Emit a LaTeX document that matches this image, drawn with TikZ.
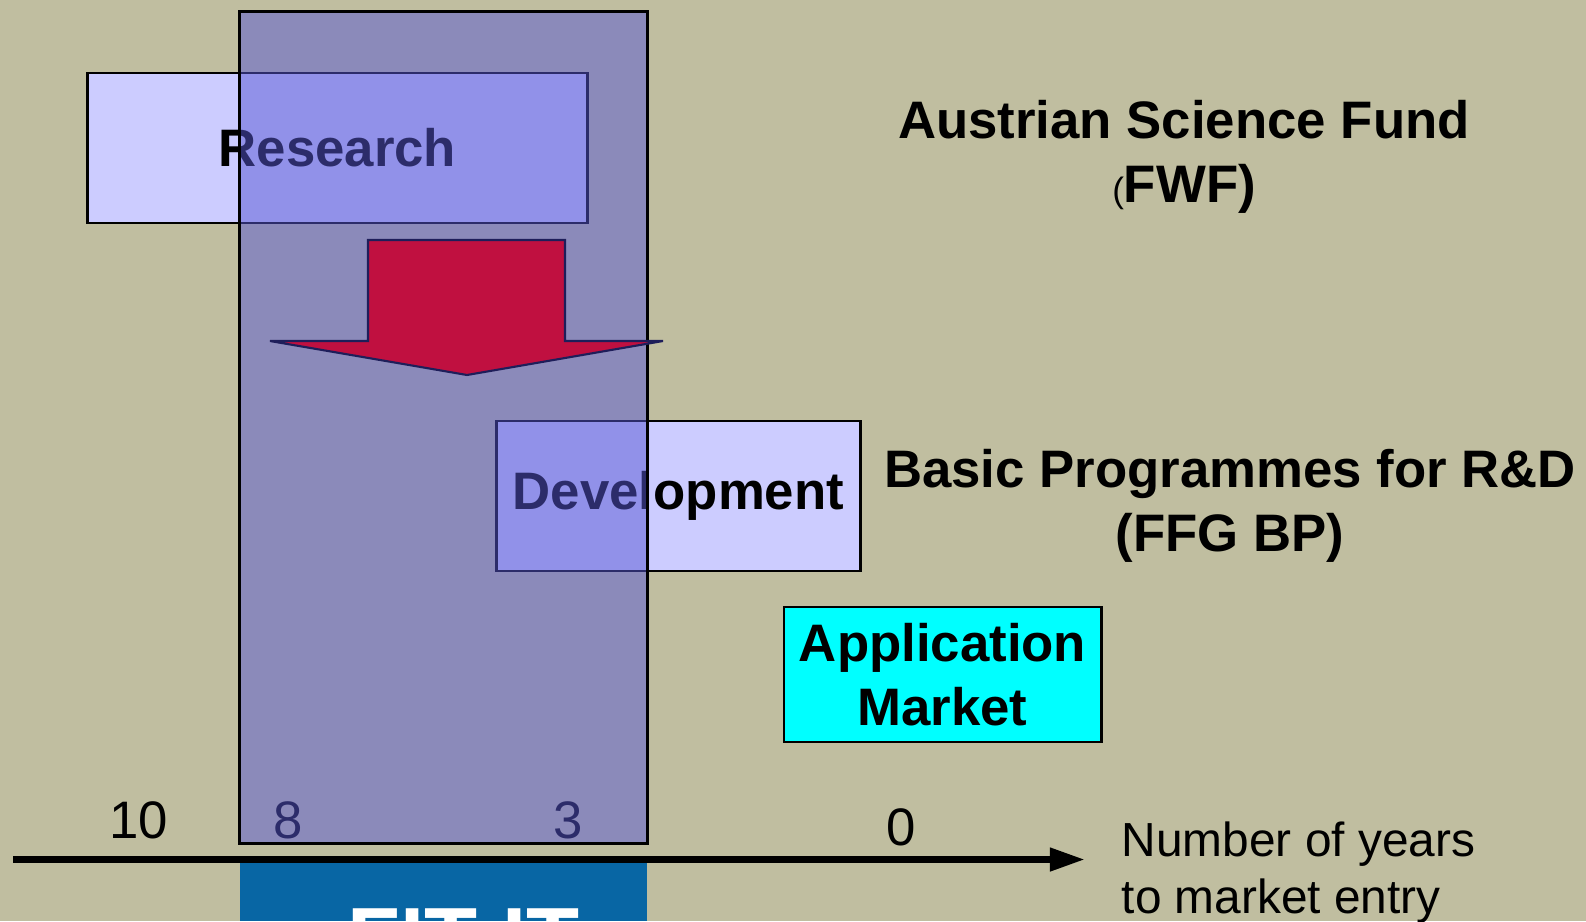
\documentclass[tikz,border=0pt]{standalone}
\usepackage{fontspec}
\setmainfont{Liberation Sans}
\usetikzlibrary{arrows.meta}
\definecolor{khaki}{RGB}{192,190,160}
\definecolor{lavender}{RGB}{204,204,255}
\definecolor{marketcyan}{RGB}{0,255,255}
\definecolor{windowblue}{RGB}{88,88,212}
\definecolor{fitblue}{RGB}{8,102,164}
\definecolor{arrowred}{RGB}{192,16,64}
\definecolor{arrownavy}{RGB}{30,30,90}

\begin{document}
\begin{tikzpicture}[x=0.01cm, y=-0.01cm,
    phasebox/.style={draw=black, line width=0.8pt, fill=lavender, inner sep=0pt,
      font=\bfseries\fontsize{15}{18}\selectfont},
    yearnum/.style={anchor=base, inner sep=0pt, font=\fontsize{15}{18}\selectfont},
    fundlabel/.style={anchor=base, align=center, inner sep=0pt,
      font=\bfseries\fontsize{15}{18}\selectfont}]
  \fill[khaki] (0,0) rectangle (1586,921);
  \useasboundingbox (0,0) rectangle (1586,921);
  % FIT-IT banner, cut off by the page
  \begin{scope}
    \clip (240,862) rectangle (647,921);
    \fill[fitblue] (240,862) rectangle (647,921);
    \node[anchor=base west, inner sep=0pt, text=white,
      font=\bfseries\fontsize{24.7}{30}\selectfont] (fitit) at (347,968) {FIT-IT};
  \end{scope}
  \node[phasebox, minimum width=4.99cm, minimum height=1.5cm] (research) at (337.5,148) {Research};
  \node[phasebox, minimum width=3.63cm, minimum height=1.5cm] (development) at (678.5,496) {Development};
  \node[phasebox, fill=marketcyan, align=center, minimum width=3.17cm, minimum height=1.35cm]
    (market) at (942.5,674.5) {Application\\Market};
  \foreach \n/\x/\y in {10/139/838, 8/288/838, 3/568/838, 0/901/845} {
    \node[yearnum] (year\n) at (\x,\y) {\n}; }
  % time window
  \node[draw=black, line width=0.8pt, fill=windowblue, fill opacity=0.5, inner sep=0pt,
    minimum width=4.07cm, minimum height=8.31cm] (window) at (443.5,427.5) {};
  \filldraw[fill=arrowred, draw=arrownavy, line width=0.6pt]
    (368,240) -- (565,240) -- (565,341) -- (663,341) -- (467,375) -- (270,341) -- (368,341) -- cycle;
  % axis
  \coordinate (axisstart) at (13,859.5);
  \coordinate (axisend) at (1085,859.5);
  \draw[line width=2pt, -{Triangle[length=10pt,width=6.3pt]}] (axisstart) -- (axisend);
  \node[fundlabel] (fwf) at (1184,202)
    {Austrian Science Fund\\{\mdseries\fontsize{10}{12}\selectfont(}FWF)};
  \node[fundlabel] (ffg) at (1230,551) {Basic Programmes for R\&D\\(FFG BP)};
  \node[anchor=base west, align=left, inner sep=0pt, font=\fontsize{13.6}{16.2}\selectfont]
    (yearslabel) at (1121,913) {Number of years\\to market entry};
\end{tikzpicture}
\end{document}
